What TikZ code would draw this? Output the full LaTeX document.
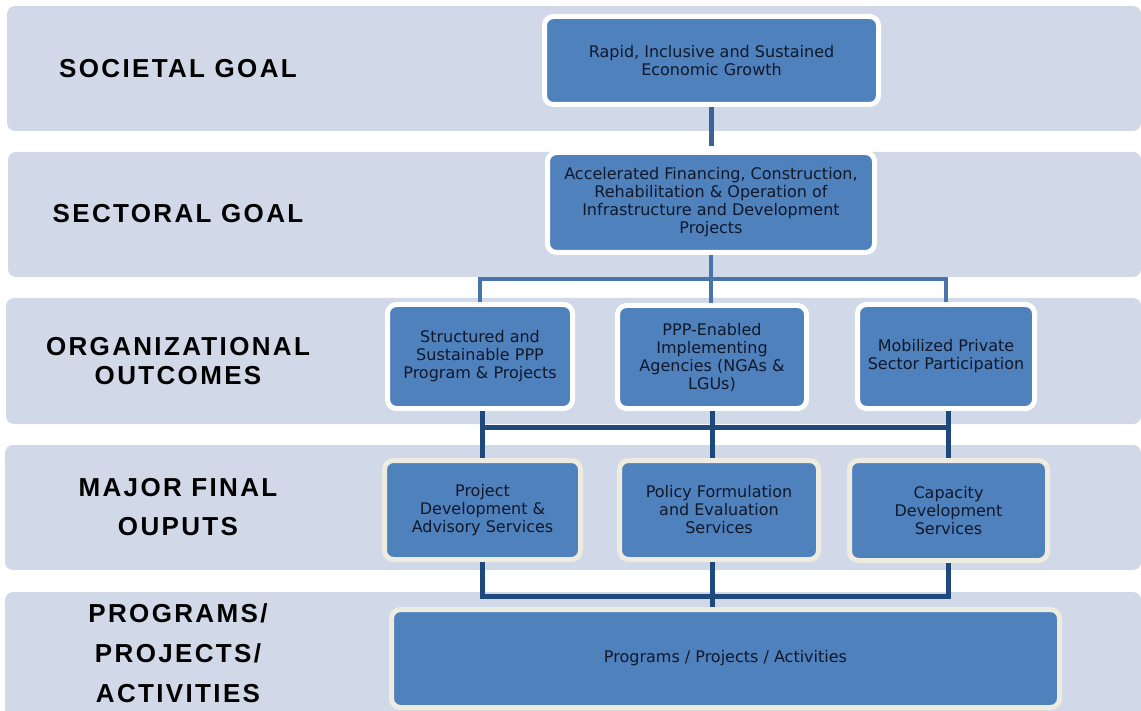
\documentclass[tikz,border=0pt]{standalone}
\usepackage{fontspec}
\setmainfont{DejaVu Sans}
\newfontfamily\levelfont[LetterSpace=9]{Liberation Sans}
\usetikzlibrary{positioning}

\definecolor{bandgray}{HTML}{D1D8E7}
\definecolor{boxblue}{HTML}{4F81BD}
\definecolor{creamline}{HTML}{EEECE1}
\definecolor{linktop}{HTML}{3D6396}
\definecolor{linkmid}{HTML}{4674AB}
\definecolor{linkdark}{HTML}{1F487C}
\definecolor{boxtext}{HTML}{10182A}

\begin{document}
\begin{tikzpicture}[x=1pt,y=-1pt,
    band/.style={fill=bandgray,rounded corners=8pt},
    levellabel/.style={align=center,font=\levelfont\bfseries\fontsize{26}{29}\selectfont},
    goalbox/.style={rectangle,rounded corners=9pt,fill=boxblue,draw=white,line width=5pt,
        align=center,text=boxtext,font=\fontsize{16}{18}\selectfont},
    outbox/.style={goalbox,draw=creamline},
    toplink/.style={draw=linktop,line width=5.5pt},
    midlink/.style={draw=linkmid,line width=4pt},
    lowlink/.style={draw=linkdark,line width=5pt}]
    \useasboundingbox (0,0) rectangle (1141,711);

    % level bands
    \fill[band] (7,6) rectangle (1141,131);
    \fill[band] (8,152) rectangle (1141,277);
    \fill[band] (6,298) rectangle (1141,424);
    \fill[band] (5,445) rectangle (1141,570);
    \fill[band] (5,592) rectangle (1141,722);

    \node[levellabel] (lblsoc) at (178,69) {SOCIETAL GOAL};
    \node[levellabel] (lblsec) at (178,214) {SECTORAL GOAL};
    \node[levellabel] (lblorg) at (178,361) {ORGANIZATIONAL\\OUTCOMES};
    \node[levellabel] (lblmfo) at (178,507) {MAJOR FINAL\\[10pt]OUPUTS};
    \node[levellabel] (lblppa) at (178,653) {PROGRAMS/\\[11pt]PROJECTS/\\[11pt]ACTIVITIES};

    % boxes
    \node[goalbox,minimum width=334,minimum height=88] (soc) at (711.5,60.5)
        {Rapid, Inclusive and Sustained\\Economic Growth};
    \node[goalbox,minimum width=327,minimum height=100] (sec) at (711,202.5)
        {Accelerated Financing, Construction,\\Rehabilitation \& Operation of\\Infrastructure and Development\\Projects};

    \node[goalbox,minimum width=185,minimum height=104] (orgA) at (480,356.5)
        {Structured and\\Sustainable PPP\\Program \& Projects};
    \node[goalbox,minimum width=189,minimum height=103] (orgB) at (712,357)
        {PPP-Enabled\\Implementing\\Agencies (NGAs \&\\LGUs)};
    \node[goalbox,minimum width=177,minimum height=104] (orgC) at (946,356.5)
        {Mobilized Private\\Sector Participation};

    \node[outbox,minimum width=196,minimum height=99] (mfoA) at (482.5,510)
        {Project\\Development \&\\Advisory Services};
    \node[outbox,minimum width=199,minimum height=99] (mfoB) at (719,510)
        {Policy Formulation\\and Evaluation\\Services};
    \node[outbox,minimum width=198,minimum height=100] (mfoC) at (948.5,510.5)
        {Capacity\\Development\\Services};

    \node[outbox,minimum width=668,minimum height=98] (prog) at (725.5,658.5)
        {Programs / Projects / Activities};

    \coordinate (topbar) at (0,279);
    \coordinate (lowbar) at (0,427);
    \coordinate (botbar) at (0,596);

    % connectors
    \draw[toplink,shorten >=4pt] (soc.south) -- (soc.south |- sec.north);

    \draw[midlink] (sec.south) -- (sec.south |- orgB.north);
    \draw[midlink] (orgA.north) -- (orgA.north |- topbar) -- (orgC.north |- topbar) -- (orgC.north);

    \draw[lowlink] (mfoA.north) -- (mfoA.north |- orgA.south);
    \draw[lowlink] (orgB.south) -- (orgB.south |- mfoB.north);
    \draw[lowlink] (mfoC.north) -- (mfoC.north |- orgC.south);
    \draw[lowlink] (mfoA.north |- lowbar) -- (mfoC.north |- lowbar);

    \draw[lowlink] (mfoA.south) -- (mfoA.south |- botbar) -- (mfoC.south |- botbar) -- (mfoC.south);
    \draw[lowlink] (orgB.south |- mfoB.south) -- (orgB.south |- prog.north);
\end{tikzpicture}
\end{document}
